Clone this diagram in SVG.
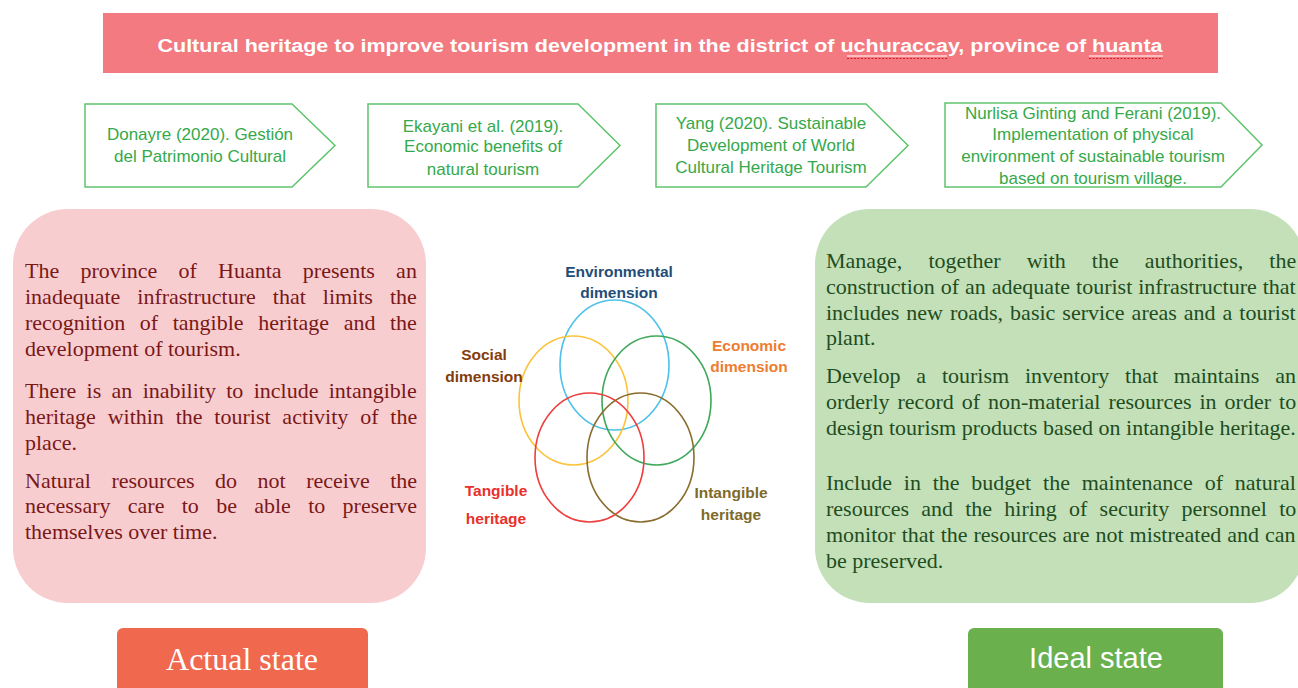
<svg xmlns="http://www.w3.org/2000/svg" width="1298" height="688" viewBox="0 0 1298 688">
<style>
.ref{fill:#fff;stroke:#5fc46c;stroke-width:1.5}
.reft{font-family:"Liberation Sans",Arial,sans-serif;font-size:17px;fill:#35a94a;text-anchor:middle}
.lt{font-family:"Liberation Serif","Times New Roman",serif;font-size:22px;fill:#7a1818}
.rt{font-family:"Liberation Serif","Times New Roman",serif;font-size:22px;fill:#1f4d22}
.vl{font-family:"Liberation Sans",Arial,sans-serif;font-size:15.5px;font-weight:bold;text-anchor:middle}
.ring{fill:none;stroke-width:1.6}
</style>
<rect width="1298" height="688" fill="#fff"/>
<g id="title">
<rect x="103" y="13" width="1115" height="60" fill="#f27a80"/>
<text x="660" y="52" font-family="'Liberation Sans',Arial,sans-serif" font-size="18" font-weight="bold" fill="#fff" text-anchor="middle" textLength="1005" lengthAdjust="spacingAndGlyphs">Cultural heritage to improve tourism development in the district of uchuraccay, province of huanta</text>
<line x1="847" y1="56" x2="947" y2="56" stroke="#fff" stroke-width="1.2"/>
<line x1="1089" y1="56" x2="1163" y2="56" stroke="#fff" stroke-width="1.2"/>
<line x1="847" y1="58.5" x2="947" y2="58.5" stroke="#d02020" stroke-width="1" stroke-dasharray="2 1.5"/>
<line x1="1089" y1="58.5" x2="1163" y2="58.5" stroke="#d02020" stroke-width="1" stroke-dasharray="2 1.5"/>
</g>
<g id="ref1">
<polygon class="ref" points="85,104 292,104 335,145.5 292,187 85,187"/>
<text class="reft"><tspan x="200" y="140">Donayre (2020). Gestión</tspan><tspan x="200" y="162">del Patrimonio Cultural</tspan></text>
</g>
<g id="ref2">
<polygon class="ref" points="368,104 578,104 620,145.5 578,187 368,187"/>
<text class="reft"><tspan x="483" y="132">Ekayani et al. (2019).</tspan><tspan x="483" y="152">Economic benefits of</tspan><tspan x="483" y="175">natural tourism</tspan></text>
</g>
<g id="ref3">
<polygon class="ref" points="656,104 866,104 908,145.5 866,187 656,187"/>
<text class="reft"><tspan x="771" y="129">Yang (2020). Sustainable</tspan><tspan x="771" y="151">Development of World</tspan><tspan x="771" y="173">Cultural Heritage Tourism</tspan></text>
</g>
<g id="ref4">
<polygon class="ref" points="945,103 1221,103 1262,145 1221,187 945,187"/>
<text class="reft"><tspan x="1093" y="119">Nurlisa Ginting and Ferani (2019).</tspan><tspan x="1093" y="140">Implementation of physical</tspan><tspan x="1093" y="162">environment of sustainable tourism</tspan><tspan x="1093" y="184">based on tourism village.</tspan></text>
</g>
<g id="actual-panel">
<rect x="13" y="209" width="413" height="394" rx="55" fill="#f8cdd0"/>
<text class="lt">
<tspan x="25" y="278" style="word-spacing:15.7px">The province of Huanta presents an</tspan>
<tspan x="25" y="304" style="word-spacing:11.5px">inadequate infrastructure that limits the</tspan>
<tspan x="25" y="330" style="word-spacing:9.1px">recognition of tangible heritage and the</tspan>
<tspan x="25" y="356">development of tourism.</tspan>
<tspan x="25" y="398" style="word-spacing:4.8px">There is an inability to include intangible</tspan>
<tspan x="25" y="424" style="word-spacing:6.3px">heritage within the tourist activity of the</tspan>
<tspan x="25" y="450">place.</tspan>
<tspan x="25" y="488" style="word-spacing:15px">Natural resources do not receive the</tspan>
<tspan x="25" y="513" style="word-spacing:11.8px">necessary care to be able to preserve</tspan>
<tspan x="25" y="539">themselves over time.</tspan>
</text>
</g>
<g id="ideal-panel">
<rect x="815" y="209" width="490" height="394" rx="55" fill="#c3e0b8"/>
<text class="rt">
<tspan x="826" y="268" style="word-spacing:20.6px">Manage, together with the authorities, the</tspan>
<tspan x="826" y="294" style="word-spacing:0.5px">construction of an adequate tourist infrastructure that</tspan>
<tspan x="826" y="320" style="word-spacing:1.5px">includes new roads, basic service areas and a tourist</tspan>
<tspan x="826" y="345">plant.</tspan>
<tspan x="826" y="383" style="word-spacing:10.3px">Develop a tourism inventory that maintains an</tspan>
<tspan x="826" y="409" style="word-spacing:2.5px">orderly record of non-material resources in order to</tspan>
<tspan x="826" y="435">design tourism products based on intangible heritage.</tspan>
<tspan x="826" y="490" style="word-spacing:6.3px">Include in the budget the maintenance of natural</tspan>
<tspan x="826" y="516" style="word-spacing:6.7px">resources and the hiring of security personnel to</tspan>
<tspan x="826" y="542" style="word-spacing:0.5px">monitor that the resources are not mistreated and can</tspan>
<tspan x="826" y="568">be preserved.</tspan>
</text>
</g>
<g id="venn">
<ellipse class="ring" cx="614.5" cy="365" rx="54.5" ry="65" stroke="#4ec0ea"/>
<ellipse class="ring" cx="573.5" cy="400.5" rx="54.5" ry="64.5" stroke="#fbc33a"/>
<ellipse class="ring" cx="656.5" cy="400.5" rx="54.5" ry="64.5" stroke="#3fa85a"/>
<ellipse class="ring" cx="589.5" cy="457.5" rx="54.5" ry="64.5" stroke="#ee3d3d"/>
<ellipse class="ring" cx="640.5" cy="457.5" rx="53.5" ry="64.5" stroke="#8a6d2e"/>
</g>
<g id="label-environmental"><text class="vl" fill="#1f4e79"><tspan x="619" y="277">Environmental</tspan><tspan x="619" y="298">dimension</tspan></text></g>
<g id="label-social"><text class="vl" fill="#843c0c"><tspan x="484" y="360">Social</tspan><tspan x="484" y="382">dimension</tspan></text></g>
<g id="label-economic"><text class="vl" fill="#ed7d31"><tspan x="749" y="351">Economic</tspan><tspan x="749" y="372">dimension</tspan></text></g>
<g id="label-tangible"><text class="vl" fill="#e8302c"><tspan x="496" y="496">Tangible</tspan><tspan x="496" y="524">heritage</tspan></text></g>
<g id="label-intangible"><text class="vl" fill="#7f6a28"><tspan x="731" y="498">Intangible</tspan><tspan x="731" y="520">heritage</tspan></text></g>
<g id="actual-state">
<rect x="117" y="628" width="251" height="70" rx="6" fill="#f0694f"/>
<text x="242" y="670" font-family="'Liberation Serif','Times New Roman',serif" font-size="32" fill="#fff" text-anchor="middle">Actual state</text>
</g>
<g id="ideal-state">
<rect x="968" y="628" width="255" height="70" rx="6" fill="#6ab04c"/>
<text x="1096" y="668" font-family="'Liberation Sans',Arial,sans-serif" font-size="29" fill="#fff" text-anchor="middle">Ideal state</text>
</g>
<g id="connectors"></g>
</svg>
